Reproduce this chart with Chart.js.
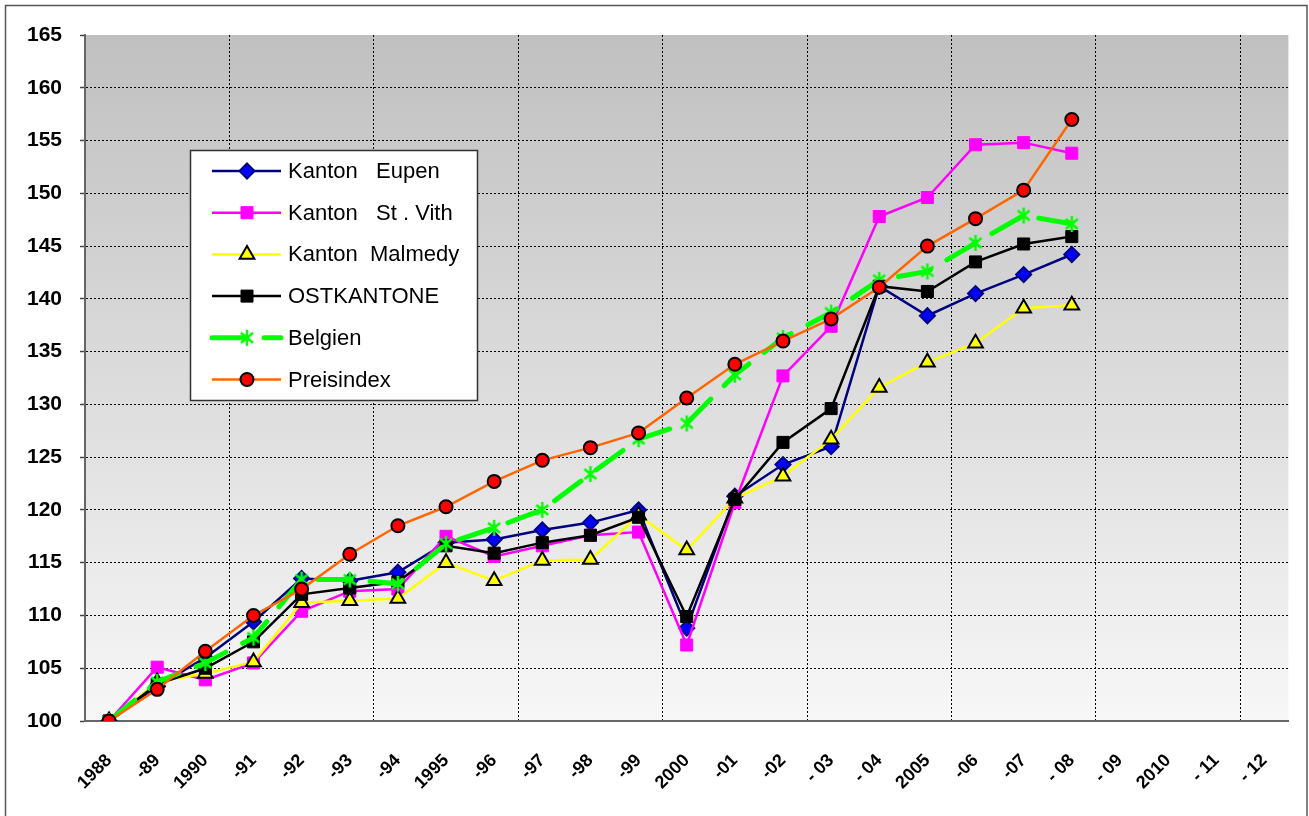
<!DOCTYPE html>
<html>
<head>
<meta charset="utf-8">
<script src="https://cdn.jsdelivr.net/npm/chart.js"></script>
<style>
  html, body { margin: 0; padding: 0; background: #fff; }
  #wrap { position: relative; width: 1309px; height: 816px; }
</style>
</head>
<body>
<div id="wrap"><canvas id="chart"></canvas></div>
<script>
const years = ['1988', '-89', '1990', '-91', '-92', '-93', '-94', '1995', '-96', '-97', '-98', '-99',
  '2000', '-01', '-02', '- 03', '- 04', '2005', '-06', '-07', '- 08', '- 09', '2010', '- 11', '- 12'];

const eupen = [100, 103.3, 106.0, 109.4, 113.5, 113.3, 114.1, 116.9, 117.2, 118.1, 118.8, 120.0,
  108.8, 121.3, 124.3, 126.0, 141.2, 138.4, 140.5, 142.3, 144.2, null, null, null, null];
const stVith = [100, 105.1, 103.9, 105.5, 110.4, 112.3, 112.5, 117.5, 115.6, 116.6, 117.6, 117.9,
  107.2, 120.7, 132.7, 137.4, 147.8, 149.6, 154.6, 154.8, 153.8, null, null, null, null];
const malmedy = [100, 103.7, 104.5, 105.6, 111.2, 111.4, 111.6, 115.0, 113.3, 115.2, 115.3, 119.5,
  116.2, 121.1, 123.2, 126.7, 131.6, 134.0, 135.8, 139.1, 139.4, null, null, null, null];
const ostkantone = [100, 103.5, 105.0, 107.5, 112.0, 112.6, 113.2, 116.6, 115.9, 116.9, 117.6, 119.3,
  109.9, 121.0, 126.4, 129.6, 141.2, 140.7, 143.5, 145.2, 145.9, null, null, null, null];
const belgien = [100, 103.7, 105.5, 107.9, 113.4, 113.4, 113.0, 116.8, 118.3, 120.0, 123.4, 126.7,
  128.2, 132.8, 136.3, 138.7, 141.8, 142.6, 145.3, 147.9, 147.1, null, null, null, null];
const preisindex = [100, 103.0, 106.6, 110.0, 112.5, 115.8, 118.5, 120.3, 122.7, 124.7, 125.9, 127.3,
  130.6, 133.8, 136.0, 138.1, 141.1, 145.0, 147.6, 150.3, 157.0, null, null, null, null];

const belgienDash = [33, 19];

// excel style asterisk marker (x with a vertical bar)
function makeStar(color) {
  const c = document.createElement('canvas');
  c.width = 18;
  c.height = 18;
  const g = c.getContext('2d');
  g.strokeStyle = color;
  g.lineWidth = 2.5;
  g.beginPath();
  g.moveTo(3, 4); g.lineTo(15, 14);
  g.moveTo(15, 4); g.lineTo(3, 14);
  g.moveTo(9, 1); g.lineTo(9, 17);
  g.stroke();
  return c;
}
const star = makeStar('#00ff00');

function series(label, data, color, extra) {
  return Object.assign({
    type: 'line',
    label: label,
    data: data,
    borderColor: color,
    backgroundColor: color,
    borderWidth: 2.5,
    pointBorderColor: color,
    pointBorderWidth: 1,
    tension: 0,
  }, extra);
}

const datasets = [
  series('Kanton   Eupen', eupen, '#000080', { pointStyle: 'rectRot', pointRadius: 7.5, backgroundColor: '#0000ff', pointBorderWidth: 2, order: 6 }),
  series('Kanton   St . Vith', stVith, '#ff00ff', { pointStyle: 'rect', pointRadius: 8.5, order: 5 }),
  series('Kanton  Malmedy', malmedy, '#ffff00', { pointStyle: 'triangle', pointRadius: 8.5, pointBorderColor: '#000', pointBorderWidth: 2, order: 4 }),
  series('OSTKANTONE', ostkantone, '#000000', { pointStyle: 'rect', pointRadius: 8.5, order: 3 }),
  series('Belgien', belgien, '#00ff00', { pointStyle: star, pointRadius: 8, borderWidth: 5, borderDash: belgienDash, borderCapStyle: 'round', order: 2 }),
  series('Preisindex', preisindex, '#ff6600', { pointStyle: 'circle', pointRadius: 6.5, backgroundColor: '#ff0000', pointBorderColor: '#000', pointBorderWidth: 2, order: 1 }),
];

function drawMarker(ctx, ds, x, y) {
  const style = ds.pointStyle;
  const r = ds.pointRadius;
  ctx.save();
  ctx.fillStyle = ds.backgroundColor;
  ctx.strokeStyle = ds.pointBorderColor;
  ctx.lineWidth = ds.pointBorderWidth;
  ctx.setLineDash([]);
  ctx.beginPath();
  if (style === 'rectRot') {
    ctx.moveTo(x, y - r); ctx.lineTo(x + r, y); ctx.lineTo(x, y + r); ctx.lineTo(x - r, y);
    ctx.closePath();
  } else if (style === 'rect') {
    const s = r * Math.SQRT1_2;
    ctx.rect(x - s, y - s, 2 * s, 2 * s);
  } else if (style === 'triangle') {
    ctx.moveTo(x, y - r);
    ctx.lineTo(x + r * 0.866, y + r / 2);
    ctx.lineTo(x - r * 0.866, y + r / 2);
    ctx.closePath();
  } else if (style === 'circle') {
    ctx.arc(x, y, r, 0, Math.PI * 2);
  } else {
    ctx.drawImage(style, x - style.width / 2, y - style.height / 2);
    ctx.restore();
    return;
  }
  ctx.fill();
  ctx.stroke();
  ctx.restore();
}

// gray gradient plot background and outer frame
const backdrop = {
  id: 'backdrop',
  beforeDraw(chart) {
    const { ctx, chartArea: a } = chart;
    ctx.save();
    ctx.fillStyle = '#fff';
    ctx.fillRect(0, 0, chart.width, chart.height);
    const grad = ctx.createLinearGradient(0, a.top, 0, a.bottom);
    grad.addColorStop(0, '#c0c0c0');
    grad.addColorStop(1, '#f7f7f7');
    ctx.fillStyle = grad;
    ctx.fillRect(a.left, a.top, a.right - a.left, a.bottom - a.top);
    ctx.strokeStyle = '#555';
    ctx.lineWidth = 1.5;
    ctx.strokeRect(5.5, 5.5, 1301.5, 840);
    ctx.restore();
  }
};

// legend box inside the plot, in dataset order
const boxLegend = {
  id: 'boxLegend',
  afterDraw(chart) {
    const ctx = chart.ctx;
    ctx.save();
    ctx.fillStyle = '#fff';
    ctx.fillRect(190.5, 150.5, 287, 250);
    ctx.strokeStyle = '#333';
    ctx.lineWidth = 1.5;
    ctx.strokeRect(190.5, 150.5, 287, 250);
    ctx.font = '22px Arial, "Liberation Sans", sans-serif';
    ctx.textBaseline = 'middle';
    chart.data.datasets.forEach((ds, i) => {
      const y = 171 + i * 41.7;
      ctx.save();
      ctx.strokeStyle = ds.borderColor;
      ctx.lineWidth = ds.borderWidth;
      ctx.lineCap = ds.borderCapStyle || 'butt';
      ctx.setLineDash(ds.borderDash || []);
      ctx.beginPath();
      ctx.moveTo(212, y);
      ctx.lineTo(281, y);
      ctx.stroke();
      ctx.restore();
      drawMarker(ctx, ds, 247, y);
      ctx.fillStyle = '#000';
      ctx.fillText(ds.label, 288, y + 1);
    });
    ctx.restore();
  }
};

new Chart(document.getElementById('chart'), {
  data: {
    labels: years,
    datasets: datasets,
  },
  options: {
    responsive: true,
    maintainAspectRatio: false,
    animation: false,
    events: [],
    layout: {
      padding: { top: 35, right: 19, left: 0, bottom: 0 },
    },
    plugins: {
      legend: { display: false },
      tooltip: { enabled: false },
    },
    scales: {
      x: {
        type: 'category',
        offset: true,
        afterFit(scale) { scale.height = 95; },
        grid: {
          offset: true,
          drawTicks: false,
          lineWidth: 1,
          color(ctx) {
            const i = ctx.index;
            return (i > 0 && i % 3 === 0) ? '#000' : 'rgba(0,0,0,0)';
          },
        },
        border: { color: '#666', width: 2, dash: [2, 2] },
        ticks: {
          autoSkip: false,
          minRotation: 45,
          maxRotation: 45,
          padding: 29,
          color: '#000',
          font: { family: 'Arial, "Liberation Sans", sans-serif', size: 18, weight: 'bold' },
        },
      },
      y: {
        min: 100,
        max: 165,
        afterFit(scale) { scale.width = 85; },
        grid: {
          lineWidth: 1,
          color(ctx) {
            return ctx.tick && ctx.tick.value === 165 ? 'rgba(0,0,0,0)' : '#000';
          },
          tickLength: 5,
          tickColor: '#444',
          tickWidth: 1.5,
          tickBorderDash: [],
        },
        border: { color: '#666', width: 2, dash: [2, 2] },
        ticks: {
          stepSize: 5,
          padding: 18,
          color: '#000',
          font: { family: 'Arial, "Liberation Sans", sans-serif', size: 21, weight: 'bold' },
        },
      },
    },
  },
  plugins: [backdrop, boxLegend],
});
</script>
</body>
</html>
